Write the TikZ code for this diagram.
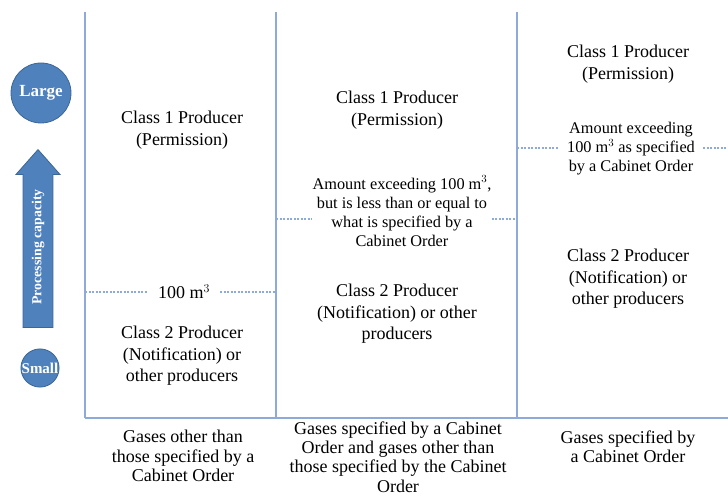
\documentclass[tikz,border=0pt]{standalone}
\usepackage{fontspec}
\setmainfont{Liberation Serif}
\usetikzlibrary{calc,arrows.meta,shapes.arrows}
\definecolor{gridline}{HTML}{8EAADB}
\definecolor{capblue}{HTML}{4F81BD}
\definecolor{capedge}{HTML}{3C6696}
\tikzset{
  solidline/.style={draw=gridline, line width=1.6pt},
  dashedline/.style={draw=gridline, line width=1.4pt, dash pattern=on 2.2pt off 1.3pt},
  lab/.style={align=center, font=\fontsize{18}{21.5}\selectfont, inner sep=0pt},
  amt/.style={align=center, font=\fontsize{16.3}{19}\selectfont, inner sep=0pt},
  base/.style={align=center, font=\fontsize{18}{19.2}\selectfont, inner sep=0pt},
  ball/.style={circle, fill=capblue, draw=capedge, line width=0.8pt, text=white, inner sep=0pt},
  capar/.style={single arrow, fill=capblue, draw=capedge, line width=0.8pt, text=white,
    font=\fontsize{13.8}{14}\selectfont\bfseries, single arrow head extend=7pt,
    single arrow tip angle=83, inner ysep=8pt, inner xsep=2pt},
}
\begin{document}
\begin{tikzpicture}[x=1pt,y=-1pt]
\useasboundingbox (0,0) rectangle (728,497);

% frame of the three columns
\coordinate (v1top) at (85,12);
\coordinate (v1bot) at (85,418);
\coordinate (v2top) at (276,12);
\coordinate (v2bot) at (276,418);
\coordinate (v3top) at (517,12);
\coordinate (v3bot) at (517,418);
\coordinate (rend) at (728,418);
\draw[solidline] (v1top) -- (v1bot);
\draw[solidline] (v2top) -- (v2bot);
\draw[solidline] (v3top) -- (v3bot);
\draw[solidline] (v1bot) -- (rend);

% capacity scale
\node[ball, minimum size=60pt, font=\fontsize{17}{17}\selectfont\bfseries] (large) at (41,93) {Large};
\node[ball, minimum size=38pt, font=\fontsize{15}{15}\selectfont\bfseries] (small) at (40,368) {Small};
\node[capar, rotate=90, minimum height=178pt, minimum width=44pt] (cap) at (38,247) {Processing capacity};

% column 1
\node[lab] (c1top) at (182,130) {Class 1 Producer\\(Permission)};
\node[lab, inner xsep=10pt] (c1lim) at (184,292) {100 m$^3$};
\node[lab] (c1bot) at (182,356) {Class 2 Producer\\(Notification) or\\other producers};
\draw[dashedline] (v1top |- c1lim) -- (c1lim.west);
\draw[dashedline] (c1lim.east) -- (v2top |- c1lim);

% column 2
\node[lab] (c2top) at (397,110) {Class 1 Producer\\(Permission)};
\node[amt] (c2lim) at (402,211) {Amount exceeding 100 m$^3$,\\but is less than or equal to\\what is specified by a\\Cabinet Order};
\node[lab] (c2bot) at (397,314) {Class 2 Producer\\(Notification) or other\\producers};
\coordinate (d2) at (276,219);
\draw[dashedline] (d2) -- (c2lim.west |- d2);
\draw[dashedline] (c2lim.east |- d2) -- (v3top |- d2);

% column 3
\node[lab] (c3top) at (628,64) {Class 1 Producer\\(Permission)};
\node[amt, inner xsep=8pt] (c3lim) at (631,149) {Amount exceeding\\100 m$^3$ as specified\\by a Cabinet Order};
\node[lab] (c3bot) at (628,279) {Class 2 Producer\\(Notification) or\\other producers};
\coordinate (d3) at (728,148);
\draw[dashedline] (v3top |- d3) -- (c3lim.west |- d3);
\draw[dashedline] (c3lim.east |- d3) -- (d3);

% gas kinds
\node[base] (g1) at (183,456) {Gases other than\\those specified by a\\Cabinet Order};
\node[base] (g2) at (398,457) {Gases specified by a Cabinet\\Order and gases other than\\those specified by the Cabinet\\Order};
\node[base] (g3) at (628,447) {Gases specified by\\a Cabinet Order};
\end{tikzpicture}
\end{document}
